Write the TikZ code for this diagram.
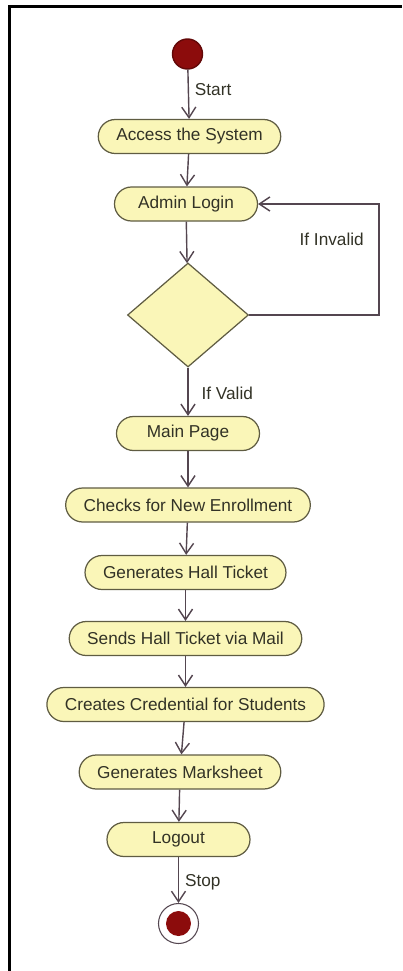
\documentclass[tikz,border=0pt]{standalone}
\usepackage{fontspec}
\setmainfont{Liberation Sans}
\usetikzlibrary{shapes.geometric,arrows.meta}

\definecolor{actfill}{RGB}{250,246,184}
\definecolor{actdraw}{RGB}{95,92,66}
\definecolor{acttext}{RGB}{50,50,38}
\definecolor{flowline}{RGB}{84,70,80}
\definecolor{dotred}{RGB}{140,12,12}

\tikzset{
  activity/.style={draw=actdraw,fill=actfill,line width=0.7pt,rounded corners=0.34cm,
    minimum height=0.68cm,minimum width=2.86cm,inner xsep=0.36cm,text=acttext,
    font=\fontsize{9.8}{12}\selectfont},
  choice/.style={diamond,draw=actdraw,fill=actfill,line width=0.7pt,inner sep=0pt,
    minimum width=2.42cm,minimum height=2.08cm},
  initial/.style={circle,fill=dotred,draw=dotred!70!black,minimum size=0.6cm,inner sep=0pt},
  final/.style={circle,draw=flowline,fill=white,line width=0.6pt,minimum size=0.8cm,inner sep=0pt,
    path picture={\fill[dotred] (path picture bounding box.center) circle (0.25cm);}},
  guard/.style={text=acttext,font=\fontsize{9.8}{12}\selectfont}
}

\begin{document}
\begin{tikzpicture}[node distance=1.35cm,>={Straight Barb[length=6pt,width=8pt]},
    every path/.style={line width=0.8pt}]
      \useasboundingbox (-3.75,1.08) rectangle (4.29,-18.34);
      \draw[line width=1.7pt] (-3.56,-18.34) -- (-3.56,0.95) -- (4.29,0.95);

      \node[initial] (start) at (0,0) {};
      \node[activity,below of=start,yshift=-0.3cm,xshift=0.04cm] (access) {Access the System};
      \node[activity,below of=access,xshift=-0.07cm] (login) {Admin Login};
      \node[choice,below of=login,yshift=-0.87cm,xshift=0.04cm] (check) {};
      \node[activity,below of=check,yshift=-1.02cm] (mainpage) {Main Page};
      \node[activity,below of=mainpage,yshift=-0.08cm] (enrol) {Checks for New Enrollment};
      \node[activity,below of=enrol,xshift=-0.05cm] (hall) {Generates Hall Ticket};
      \node[activity,below of=hall,yshift=0.03cm] (mail) {Sends Hall Ticket via Mail};
      \node[activity,below of=mail,yshift=0.03cm] (cred) {Creates Credential for Students};
      \node[activity,below of=cred,xshift=-0.11cm] (marks) {Generates Marksheet};
      \node[activity,below of=marks,xshift=-0.03cm] (logout) {Logout};
      \node[final,below of=logout,yshift=-0.33cm] (stop) {};

      \draw[->,flowline] (start) -- node[guard,right,pos=0.4] {Start} (access);
      \draw[->,flowline] (access) -- (login);
      \draw[->,flowline] (login) -- (check);
      \draw[->,flowline] (check.east) -- ++(2.6,0) |- node[guard,left,pos=0.34,xshift=-5pt] {If Invalid} (login.east);
      \draw[->,flowline] (check) -- node[guard,right,pos=0.53,xshift=4pt] {If Valid} (mainpage);
      \draw[->,flowline] (mainpage) -- (enrol);
      \draw[->,flowline] (enrol) -- (hall);
      \draw[->,flowline] (hall) -- (mail);
      \draw[->,flowline] (mail) -- (cred);
      \draw[->,flowline] (cred) -- (marks);
      \draw[->,flowline] (marks) -- (logout);
      \draw[->,flowline] (logout) -- node[guard,right,pos=0.54] {Stop} (stop);
    \end{tikzpicture}
\end{document}
